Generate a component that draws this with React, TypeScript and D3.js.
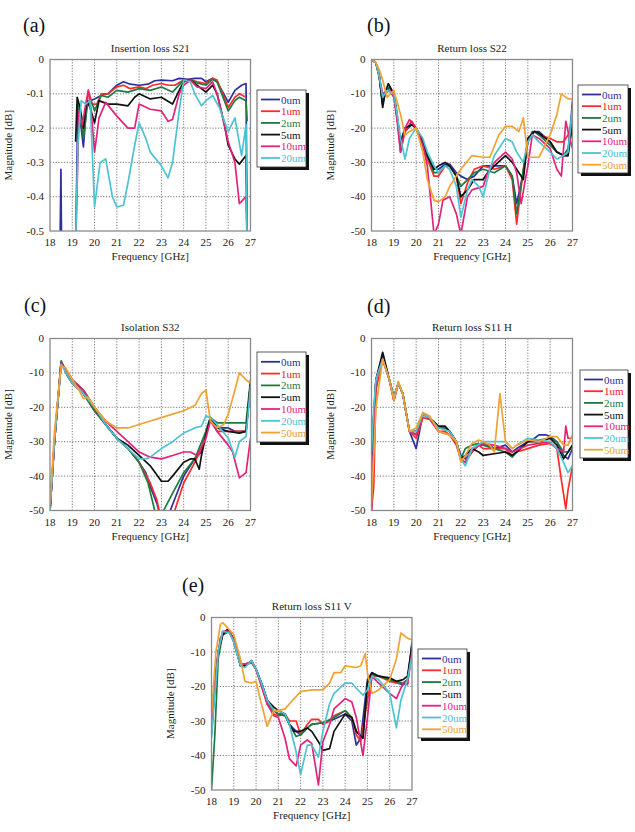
import React from 'react';
import * as d3 from 'd3';

type Pt = [number, number];

const FREQ_TICKS = [18, 19, 20, 21, 22, 23, 24, 25, 26, 27];
const DB_TICKS = [0, -10, -20, -30, -40, -50];
const IL_TICKS = [0, -0.1, -0.2, -0.3, -0.4, -0.5];
const NAMES = ['0um', '1um', '2um', '5um', '10um', '20um', '50um'];
const LINE_COLORS = ['#2e2e9c', '#ff2b2b', '#1f7a40', '#111111', '#e2237c', '#4cc3d3', '#f0a232'];
const TEXT_COLORS = ['#2e2e9c', '#ee2020', '#1f7a40', '#111111', '#e2237c', '#45bfd0', '#eaa030'];

// (a) Insertion loss S21
const a0: Pt[] = [[18.45,-0.55],[18.49,-0.32],[18.52,-0.55],[19.15,-0.55],[19.25,-0.13],[19.4,-0.2],[19.5,-0.255],[19.65,-0.13],[19.8,-0.12],[20,-0.115],[20.3,-0.105],[20.6,-0.1],[21,-0.075],[21.3,-0.065],[21.6,-0.072],[22,-0.075],[22.4,-0.072],[22.7,-0.062],[23,-0.06],[23.5,-0.062],[23.8,-0.055],[24.2,-0.058],[24.5,-0.055],[24.8,-0.055],[25,-0.065],[25.3,-0.055],[25.5,-0.065],[25.8,-0.1],[26,-0.125],[26.3,-0.09],[26.6,-0.075],[26.8,-0.07],[26.85,-0.55]];
const a1: Pt[] = [[19.25,-0.12],[19.5,-0.22],[19.72,-0.09],[19.9,-0.13],[20.1,-0.13],[20.3,-0.1],[20.6,-0.1],[21,-0.08],[21.3,-0.075],[21.6,-0.085],[22,-0.08],[22.3,-0.085],[22.6,-0.075],[23,-0.07],[23.3,-0.075],[23.6,-0.075],[24,-0.06],[24.3,-0.058],[24.6,-0.065],[25,-0.07],[25.3,-0.055],[25.5,-0.06],[26,-0.14],[26.3,-0.11],[26.5,-0.1],[26.8,-0.11]];
const a2: Pt[] = [[19.25,-0.12],[19.5,-0.23],[19.7,-0.12],[19.9,-0.13],[20,-0.15],[20.3,-0.105],[20.6,-0.11],[21,-0.09],[21.5,-0.095],[22,-0.085],[22.5,-0.09],[23,-0.08],[23.5,-0.095],[24,-0.06],[24.3,-0.06],[24.6,-0.068],[25,-0.075],[25.3,-0.058],[25.5,-0.065],[26,-0.15],[26.3,-0.12],[26.5,-0.11],[26.8,-0.12],[26.85,-0.18]];
const a5: Pt[] = [[19.15,-0.24],[19.22,-0.11],[19.35,-0.14],[19.5,-0.2],[19.65,-0.12],[19.8,-0.14],[20,-0.185],[20.2,-0.12],[20.4,-0.125],[20.6,-0.13],[21,-0.13],[21.5,-0.135],[21.8,-0.11],[22,-0.1],[22.5,-0.115],[23,-0.11],[23.5,-0.13],[23.8,-0.09],[24,-0.065],[24.3,-0.06],[24.6,-0.075],[25,-0.095],[25.3,-0.075],[25.5,-0.1],[25.8,-0.18],[26,-0.25],[26.3,-0.29],[26.5,-0.305],[26.8,-0.28],[26.85,-0.55]];
const a10: Pt[] = [[19.15,-0.55],[19.3,-0.15],[19.45,-0.19],[19.55,-0.15],[19.72,-0.09],[19.85,-0.15],[20,-0.27],[20.2,-0.17],[20.5,-0.125],[21,-0.165],[21.5,-0.2],[21.8,-0.2],[22,-0.13],[22.5,-0.145],[23,-0.15],[23.3,-0.18],[23.5,-0.175],[23.8,-0.1],[24,-0.075],[24.3,-0.06],[24.6,-0.08],[25,-0.085],[25.3,-0.065],[25.5,-0.1],[26,-0.24],[26.3,-0.3],[26.5,-0.42],[26.8,-0.4],[26.85,-0.55]];
const a20: Pt[] = [[19.15,-0.55],[19.25,-0.25],[19.4,-0.12],[19.6,-0.13],[19.8,-0.12],[20,-0.43],[20.25,-0.3],[20.5,-0.29],[20.8,-0.4],[21,-0.43],[21.3,-0.425],[21.5,-0.36],[21.8,-0.25],[22,-0.185],[22.3,-0.23],[22.5,-0.27],[23,-0.31],[23.3,-0.345],[23.5,-0.3],[23.8,-0.15],[24,-0.06],[24.3,-0.065],[24.5,-0.1],[24.8,-0.135],[25,-0.12],[25.3,-0.105],[25.6,-0.14],[26,-0.21],[26.3,-0.17],[26.6,-0.28],[26.8,-0.19],[26.85,-0.55]];

// (b) Return loss S22
const b0: Pt[] = [[18,0],[18.2,-1],[18.35,-5],[18.5,-13],[18.6,-10],[18.8,-8],[19,-10],[19.15,-16],[19.3,-25],[19.5,-21],[19.8,-19],[20,-20],[20.3,-24],[20.5,-28],[20.8,-32],[21,-32],[21.3,-30.5],[21.5,-30.5],[21.8,-33],[22,-34],[22.3,-35],[22.6,-34],[23,-31],[23.5,-31],[24,-31],[24.3,-34],[24.5,-42],[24.8,-33],[25,-24],[25.2,-21],[25.5,-21],[26,-24],[26.3,-27],[26.6,-28],[26.8,-28],[27,-12]];
const b1: Pt[] = [[18,0],[18.2,-1],[18.35,-5],[18.5,-12],[18.6,-10],[18.8,-9],[19,-10],[19.15,-17],[19.3,-27],[19.5,-21],[19.8,-18],[20,-20],[20.3,-25],[20.5,-29],[20.8,-34],[21,-34],[21.3,-31],[21.5,-31],[21.8,-34],[22,-42],[22.3,-36],[22.6,-32],[23,-31],[23.5,-32],[24,-31],[24.3,-35],[24.5,-48],[24.8,-32],[25,-23],[25.3,-21],[25.5,-22],[26,-23],[26.3,-24],[26.6,-24],[26.8,-22],[27,-18]];
const b2: Pt[] = [[18,0],[18.2,-1],[18.35,-5],[18.5,-13],[18.6,-10],[18.8,-8],[19,-10],[19.15,-17],[19.3,-25],[19.5,-20],[19.8,-19],[20,-20],[20.3,-24],[20.5,-28],[20.8,-33],[21,-33],[21.3,-31],[21.5,-31],[21.8,-34],[22,-37],[22.3,-35],[22.6,-33],[23,-32],[23.5,-33],[24,-31],[24.3,-34],[24.5,-45],[24.8,-32],[25,-24],[25.3,-21],[25.5,-22],[26,-25],[26.3,-27],[26.6,-28],[26.8,-26],[27,-15]];
const b5: Pt[] = [[18,0],[18.2,-1],[18.35,-5],[18.5,-14],[18.6,-10],[18.75,-7],[19,-10],[19.15,-17],[19.3,-24],[19.5,-20],[19.8,-19],[20,-20],[20.3,-24],[20.5,-28],[20.8,-32],[21,-31],[21.3,-30],[21.5,-31],[21.8,-34],[22,-40],[22.3,-38],[22.6,-35],[23,-35],[23.2,-33],[23.5,-31],[24,-28],[24.3,-30],[24.5,-32],[24.8,-35],[25,-23],[25.3,-21],[25.5,-21.5],[26,-24],[26.3,-27],[26.6,-28],[26.8,-28],[27,-19]];
const b10: Pt[] = [[18,0],[18.2,-1],[18.35,-5],[18.5,-10],[18.6,-9.5],[18.8,-9],[19,-11],[19.15,-18],[19.3,-27],[19.5,-20],[19.7,-17.5],[20,-20],[20.3,-25],[20.5,-31],[20.8,-51],[21,-48],[21.2,-41],[21.5,-40],[21.8,-45],[22,-51],[22.3,-40],[22.5,-38],[23,-37],[23.2,-33],[23.5,-30],[24,-27],[24.3,-29],[24.5,-33],[24.7,-42],[25,-31],[25.2,-22],[25.5,-23],[26,-26],[26.3,-32],[26.5,-34],[26.7,-18],[26.8,-21],[27,-26]];
const b20: Pt[] = [[18,0],[18.2,-1],[18.35,-5],[18.5,-11],[18.7,-9],[19,-10],[19.15,-16],[19.3,-23],[19.5,-29],[19.7,-23],[20,-20],[20.3,-23],[20.5,-27],[20.8,-31],[21,-33],[21.3,-31],[21.5,-32],[21.8,-37],[22,-46],[22.3,-38],[22.5,-35],[22.8,-37],[23,-40],[23.3,-32],[23.5,-28],[24,-23],[24.3,-24],[24.5,-27],[24.8,-30],[25,-24],[25.2,-22],[25.5,-24],[26,-27],[26.3,-29],[26.6,-28],[26.8,-27],[27,-14]];
const b50: Pt[] = [[18,0],[18.2,-1],[18.35,-3],[18.5,-6],[18.7,-11],[19,-9],[19.3,-16],[19.5,-22],[19.7,-21],[20,-20],[20.3,-27],[20.5,-35],[20.8,-41],[21,-41.5],[21.3,-40],[21.5,-37],[22,-32],[22.5,-28],[23,-28.5],[23.3,-28.5],[23.7,-22],[24,-19.5],[24.3,-19.5],[24.6,-21],[24.8,-17],[25,-28.5],[25.3,-28.5],[25.5,-28.5],[26,-22],[26.3,-16],[26.5,-10],[26.8,-11.5],[27,-11.5]];

// (c) Isolation S32
const c0: Pt[] = [[18,-50],[18.2,-30],[18.5,-7],[18.8,-11],[19,-13],[19.5,-16],[20,-21],[20.5,-25],[21,-29],[21.5,-32],[22,-36],[22.3,-39],[22.5,-43],[22.8,-48],[23,-53],[23.3,-53],[23.4,-50],[23.7,-45],[24,-40],[24.5,-35],[24.8,-33],[25,-28],[25.2,-23],[25.5,-26],[26,-26],[26.3,-27],[26.6,-27],[26.8,-27],[27,-13]];
const c1: Pt[] = [[18,-50],[18.2,-30],[18.5,-7],[18.8,-11],[19,-13],[19.5,-16],[20,-21],[20.5,-25],[21,-29],[21.5,-32],[22,-36],[22.5,-42],[22.8,-47],[23,-53],[23.5,-53],[23.6,-50],[24,-42],[24.5,-36],[24.8,-32],[25,-27],[25.2,-23],[25.5,-27],[26,-27],[26.5,-27],[26.8,-27],[27,-13]];
const c2: Pt[] = [[18,-50],[18.2,-30],[18.5,-6.5],[18.8,-11],[19,-13],[19.5,-16],[20,-21],[20.5,-25],[21,-29],[21.5,-32],[22,-36],[22.4,-42],[22.7,-50],[22.9,-55],[23.1,-50],[23.5,-45],[24,-39],[24.5,-35],[25,-27],[25.2,-23],[25.5,-24.5],[26,-24.5],[26.5,-24.5],[26.8,-24.5],[27,-12]];
const c5: Pt[] = [[18,-50],[18.2,-30],[18.5,-7],[19,-12],[19.5,-15],[20,-20],[20.5,-25],[21,-29],[21.5,-31],[22,-34],[22.5,-37],[23,-41.5],[23.3,-41.5],[23.5,-40],[24,-36],[24.3,-35],[24.5,-35],[24.7,-38],[24.8,-34],[25,-28],[25.2,-23],[25.5,-26],[26,-27],[26.5,-27.5],[26.8,-27],[27,-13]];
const c10: Pt[] = [[18,-50],[18.2,-30],[18.5,-7],[19,-12],[19.5,-15],[20,-20],[20.5,-24],[21,-27],[21.5,-30],[22,-33],[22.5,-34.5],[23,-35],[23.5,-34],[24,-33],[24.3,-33],[24.6,-34],[25,-29],[25.2,-24],[25.5,-27],[26,-31],[26.2,-33],[26.5,-40.5],[26.8,-39],[27,-29]];
const c20: Pt[] = [[18,-50],[18.2,-30],[18.5,-7.5],[19,-13],[19.5,-16],[20,-20],[20.5,-25],[21,-29],[21.5,-32],[22,-35],[22.3,-35],[22.5,-34.5],[23,-32],[23.5,-30],[24,-27.5],[24.5,-26],[24.8,-25.5],[25,-22.5],[25.2,-23],[25.5,-25],[26,-29],[26.3,-34.5],[26.5,-30],[26.8,-28.5],[27,-14]];
const c50: Pt[] = [[18,-48],[18.2,-27],[18.5,-8],[18.7,-8.5],[19,-12],[19.3,-15],[19.5,-17.5],[19.7,-17],[20,-20],[20.5,-24],[21,-26],[21.5,-26],[22,-25],[22.5,-24],[23,-23],[23.5,-22],[24,-21],[24.5,-19.5],[24.8,-16],[25,-15],[25.2,-24],[25.5,-26],[25.8,-25],[26,-22],[26.3,-15],[26.5,-10],[26.8,-12],[27,-13]];

// (d) Return loss S11 H
const d0: Pt[] = [[18,-37],[18.2,-12],[18.5,-5],[18.8,-12],[19,-17],[19.2,-13],[19.4,-16],[19.7,-27],[20,-32],[20.3,-22],[20.6,-23],[21,-26],[21.3,-26],[21.5,-27],[21.8,-30],[22,-34],[22.2,-35],[22.5,-33],[22.8,-31],[23,-31],[23.3,-31],[23.5,-32],[24,-31],[24.3,-33],[24.5,-32],[25,-30],[25.3,-29],[25.5,-28],[25.8,-28],[26,-28.5],[26.3,-30],[26.6,-34],[26.8,-35],[27,-32]];
const d1: Pt[] = [[18,-50],[18.1,-43],[18.2,-15],[18.5,-6],[18.8,-12],[19,-18],[19.2,-13],[19.4,-16],[19.7,-27],[20,-29],[20.3,-23],[20.6,-23.5],[21,-27],[21.3,-27],[21.5,-28],[21.8,-31],[22,-35],[22.2,-36],[22.5,-33],[22.8,-31],[23,-32],[23.5,-32],[24,-32],[24.3,-34],[24.5,-33],[25,-32],[25.5,-31],[26,-30.5],[26.3,-32],[26.5,-41],[26.7,-49.5],[26.8,-44],[27,-37]];
const d2: Pt[] = [[18,-33],[18.2,-12],[18.5,-6],[18.8,-12],[19,-18],[19.2,-13],[19.4,-16],[19.7,-27],[20,-28],[20.3,-22],[20.6,-23],[21,-26],[21.3,-26],[21.5,-27],[21.8,-30],[22,-35],[22.2,-32],[22.5,-31],[22.8,-30.5],[23,-31],[23.5,-32],[24,-33],[24.3,-34.5],[24.5,-33],[25,-30],[25.5,-29.5],[26,-29],[26.3,-30],[26.6,-33],[26.8,-33],[27,-31]];
const d5: Pt[] = [[18,-33],[18.2,-12],[18.5,-4],[18.8,-12],[19,-17],[19.2,-13],[19.4,-16],[19.7,-27],[20,-27],[20.3,-22],[20.6,-23],[21,-25.5],[21.3,-25.5],[21.5,-27],[21.8,-30],[22,-35],[22.2,-34],[22.5,-32],[22.8,-33],[23,-34],[23.5,-33.5],[24,-33],[24.3,-34],[24.5,-33],[25,-30],[25.5,-30],[26,-29],[26.3,-31],[26.6,-35],[26.8,-33],[27,-31]];
const d10: Pt[] = [[18,-50],[18.2,-12],[18.5,-6],[18.8,-12],[19,-18],[19.2,-13],[19.4,-16],[19.7,-27],[20,-28],[20.3,-22],[20.6,-23],[21,-27],[21.5,-28],[21.8,-30.5],[22,-35],[22.2,-36],[22.5,-32],[23,-30.5],[23.5,-31],[24,-32],[24.3,-33],[24.5,-32.5],[25,-31],[25.5,-30.5],[26,-30],[26.3,-32],[26.6,-33],[26.7,-25.5],[26.8,-29],[27,-29]];
const d20: Pt[] = [[18,-33],[18.1,-20],[18.2,-12],[18.5,-6],[18.8,-12],[19,-17],[19.2,-13],[19.4,-16],[19.7,-27],[20,-27],[20.3,-22],[20.6,-23],[21,-26],[21.5,-27],[21.8,-30],[22,-35],[22.2,-37],[22.5,-32],[23,-30],[23.5,-30],[24,-30],[24.3,-32],[24.5,-31],[25,-29],[25.5,-29.5],[26,-30],[26.3,-32],[26.6,-36],[26.8,-39],[27,-37]];
const d50: Pt[] = [[18,-48],[18.2,-20],[18.5,-6],[18.8,-12],[19,-18],[19.2,-12.5],[19.4,-16],[19.7,-27],[20,-26],[20.3,-21.5],[20.6,-22.5],[21,-27],[21.5,-28],[21.8,-30],[22,-36],[22.2,-34],[22.5,-30.5],[22.8,-29.5],[23,-30],[23.3,-31],[23.5,-33],[23.75,-16],[24,-30],[24.3,-32],[24.5,-31],[25,-29.5],[25.5,-30],[26,-28.5],[26.3,-28.5],[26.6,-31],[26.8,-31],[27,-28]];

// (e) Return loss S11 V
const e0: Pt[] = [[18,-34],[18.2,-15],[18.4,-6],[18.6,-4],[18.8,-4],[19,-7],[19.3,-14],[19.5,-14],[19.8,-13],[20,-15],[20.3,-20],[20.5,-24],[20.8,-27],[21,-28],[21.3,-28],[21.5,-31],[21.8,-33],[22,-34],[22.3,-32],[22.5,-31],[23,-30.5],[23.3,-30],[23.5,-29.5],[24,-28],[24.3,-30],[24.5,-37],[24.7,-35],[25,-18],[25.2,-16],[25.5,-17],[26,-18],[26.3,-19],[26.6,-19.5],[26.8,-19],[27,-7]];
const e1: Pt[] = [[18,-30],[18.3,-10],[18.5,-5],[18.8,-4],[19,-7],[19.3,-13.5],[19.5,-13.5],[19.8,-13],[20,-15],[20.3,-21],[20.5,-25],[20.8,-28],[21,-28.5],[21.3,-28],[21.5,-30],[21.8,-30],[22,-34],[22.3,-31],[22.5,-29.5],[22.8,-29.5],[23,-31],[23.3,-30],[23.5,-28.5],[24,-27],[24.3,-29],[24.5,-34],[24.7,-36],[25,-24],[25.2,-17],[25.5,-17],[26,-18.5],[26.3,-19],[26.6,-19],[26.8,-18],[27,-9]];
const e2: Pt[] = [[18,-50],[18.15,-34],[18.3,-12],[18.5,-5],[18.8,-4],[19,-7],[19.3,-14],[19.5,-13.5],[19.8,-13],[20,-15],[20.3,-20],[20.5,-25],[20.8,-27],[21,-28],[21.3,-28.5],[21.5,-31],[21.8,-34.5],[22,-34],[22.3,-32],[22.5,-31],[23,-30.5],[23.5,-29],[24,-27],[24.3,-29],[24.5,-33],[24.8,-35],[25,-19],[25.2,-16.5],[25.5,-17],[26,-18],[26.3,-18.5],[26.6,-19],[26.8,-18],[27,-8]];
const e5: Pt[] = [[18,-32],[18.3,-10],[18.5,-5],[18.7,-3.5],[19,-6],[19.3,-14],[19.5,-14],[19.8,-12.5],[20,-15],[20.3,-20],[20.5,-24],[20.8,-26],[21,-27],[21.3,-28],[21.5,-31],[21.7,-33],[22,-33],[22.3,-32],[22.5,-33],[22.8,-36],[23,-38.5],[23.3,-38],[23.5,-33],[24,-28],[24.3,-29],[24.5,-33],[24.8,-35],[25,-19],[25.2,-16],[25.5,-17],[26,-17.5],[26.3,-18.5],[26.6,-18],[26.8,-17],[27,-8]];
const e10: Pt[] = [[18,-30],[18.3,-10],[18.5,-4],[18.8,-4],[19,-6.5],[19.3,-13.5],[19.5,-13.5],[19.8,-13],[20,-15],[20.3,-21],[20.5,-25],[20.8,-28.5],[21,-29],[21.3,-35],[21.5,-41],[21.8,-43],[22,-37],[22.3,-35.5],[22.5,-36.5],[22.8,-48.5],[23,-36],[23.3,-31],[23.5,-26.5],[24,-23.5],[24.3,-24.5],[24.5,-29],[24.8,-40],[25,-29],[25.2,-17],[25.5,-19],[26,-22],[26.3,-23.5],[26.6,-19],[26.8,-19.5],[27,-10]];
const e20: Pt[] = [[18,-35],[18.3,-10],[18.5,-4],[18.8,-4.5],[19,-7],[19.3,-14],[19.5,-14.5],[19.8,-12.5],[20,-15],[20.3,-20],[20.5,-24],[20.8,-27],[21,-27],[21.3,-28],[21.5,-31],[21.8,-39],[22,-45.5],[22.3,-37],[22.5,-37],[22.8,-40.5],[23,-33],[23.3,-25],[23.5,-22],[24,-19],[24.3,-19],[24.5,-20.5],[24.8,-22.5],[25,-21],[25.2,-17],[25.5,-18],[26,-22],[26.3,-32],[26.5,-24],[26.8,-18],[27,-11]];
const e50: Pt[] = [[18,-28],[18.2,-10],[18.4,-2],[18.5,-1.5],[18.8,-3.5],[19,-5],[19.3,-12],[19.5,-18.5],[19.8,-19],[20,-18.5],[20.2,-24],[20.5,-31.5],[20.8,-27],[21,-27],[21.3,-26.5],[21.5,-25],[22,-21.5],[22.5,-21],[23,-21],[23.3,-19],[23.5,-16],[23.8,-16],[24,-14],[24.5,-14.5],[24.7,-14],[24.9,-10.5],[25,-16],[25.2,-22],[25.5,-21],[26,-18],[26.3,-12],[26.5,-4.5],[26.8,-6],[27,-6.5]];

interface PanelCfg {
  id: string;
  left: number; top: number; w: number; h: number;
  yMin: number; yTicks: number[]; fmt: (v: number) => string;
  title: string; label: string; labelX: number; labelY: number;
  legX: number; legY: number; legW: number; legH: number; rowY0: number; rowDy: number;
  series: Pt[][];
}

const SERIF = '"Liberation Serif", "Times New Roman", Times, serif';

const panels: PanelCfg[] = [
  { id: 'a', left: 50, top: 59.5, w: 200.5, h: 171.5, yMin: -0.5, yTicks: IL_TICKS, fmt: (v) => (v === 0 ? '0' : d3.format('.1f')(v).replace('−', '-')),
    title: 'Insertion loss S21', label: '(a)', labelX: 23, labelY: 32, legX: 257, legY: 90, legW: 49, legH: 77, rowY0: 99.5, rowDy: 11.7,
    series: [a0, a1, a2, a5, a10, a20] },
  { id: 'b', left: 371.5, top: 59.5, w: 201, h: 171.5, yMin: -50, yTicks: DB_TICKS, fmt: (v) => String(v),
    title: 'Return loss S22', label: '(b)', labelX: 367, labelY: 32, legX: 578, legY: 85, legW: 50, legH: 88, rowY0: 94.5, rowDy: 11.7,
    series: [b0, b1, b2, b5, b10, b20, b50] },
  { id: 'c', left: 50, top: 338.5, w: 200.5, h: 172, yMin: -50, yTicks: DB_TICKS, fmt: (v) => String(v),
    title: 'Isolation S32', label: '(c)', labelX: 24, labelY: 312, legX: 257, legY: 352, legW: 49, legH: 90, rowY0: 361.8, rowDy: 11.8,
    series: [c0, c1, c2, c5, c10, c20, c50] },
  { id: 'd', left: 371.5, top: 338.5, w: 201, h: 172, yMin: -50, yTicks: DB_TICKS, fmt: (v) => String(v),
    title: 'Return loss S11 H', label: '(d)', labelX: 367, labelY: 313, legX: 580, legY: 370, legW: 48, legH: 88, rowY0: 379.5, rowDy: 11.7,
    series: [d0, d1, d2, d5, d10, d20, d50] },
  { id: 'e', left: 211.5, top: 617.5, w: 200.5, h: 172.5, yMin: -50, yTicks: DB_TICKS, fmt: (v) => String(v),
    title: 'Return loss S11 V', label: '(e)', labelX: 182, labelY: 592, legX: 418, legY: 649, legW: 49, legH: 89, rowY0: 658.5, rowDy: 11.8,
    series: [e0, e1, e2, e5, e10, e20, e50] },
];

function Panel({ p }: { p: PanelCfg }) {
  const x = d3.scaleLinear().domain([18, 27]).range([p.left, p.left + p.w]);
  const y = d3.scaleLinear().domain([0, p.yMin]).range([p.top, p.top + p.h]);
  const line = d3.line<Pt>().x((d) => x(d[0])).y((d) => y(d[1]));
  const bottom = p.top + p.h;
  const cx = p.left + p.w / 2;
  return (
    <g>
      <defs>
        <clipPath id={`clip-${p.id}`}>
          <rect x={p.left} y={p.top} width={p.w} height={p.h} />
        </clipPath>
      </defs>
      <text x={p.labelX} y={p.labelY} fontFamily={SERIF} fontSize={20} fill="#111">{p.label}</text>
      <text x={cx} y={p.top - 8} fontFamily={SERIF} fontSize={11} textAnchor="middle" fill="#222">{p.title}</text>
      <rect x={p.left} y={p.top} width={p.w} height={p.h} fill="#fff" />
      {FREQ_TICKS.slice(1, -1).map((t) => (
        <line key={`gx${t}`} x1={x(t)} x2={x(t)} y1={p.top} y2={bottom} stroke="#555" strokeWidth={0.8} strokeDasharray="1.2,1.6" />
      ))}
      {p.yTicks.slice(1, -1).map((t) => (
        <line key={`gy${t}`} x1={p.left} x2={p.left + p.w} y1={y(t)} y2={y(t)} stroke="#555" strokeWidth={0.8} strokeDasharray="1.2,1.6" />
      ))}
      <g clipPath={`url(#clip-${p.id})`}>
        {p.series.map((s, i) => (
          <path key={i} d={line(s) || ''} fill="none" stroke={LINE_COLORS[i]} strokeWidth={1.7} strokeLinejoin="round" />
        ))}
      </g>
      <rect x={p.left} y={p.top} width={p.w} height={p.h} fill="none" stroke="#8a8a8a" strokeWidth={1.3} />
      {p.yTicks.map((t) => (
        <text key={`ty${t}`} x={p.left - 6} y={y(t) + 3.5} fontFamily={SERIF} fontSize={11} textAnchor="end" fill="#222">{p.fmt(t)}</text>
      ))}
      {FREQ_TICKS.map((t) => (
        <text key={`tx${t}`} x={x(t)} y={bottom + 15} fontFamily={SERIF} fontSize={11} textAnchor="middle" fill="#222">{t}</text>
      ))}
      <text x={cx} y={bottom + 29} fontFamily={SERIF} fontSize={11} textAnchor="middle" fill="#222">Frequency [GHz]</text>
      <text transform={`translate(${p.left - 38},${p.top + p.h / 2}) rotate(-90)`} fontFamily={SERIF} fontSize={11} textAnchor="middle" fill="#222">Magnitude [dB]</text>
      <rect x={p.legX + 3} y={p.legY + 3} width={p.legW} height={p.legH} fill="#111" />
      <rect x={p.legX} y={p.legY} width={p.legW} height={p.legH} fill="#fff" stroke="#333" strokeWidth={0.8} />
      {p.series.map((_, i) => {
        const ry = p.rowY0 + i * p.rowDy;
        return (
          <g key={`lg${i}`}>
            <line x1={p.legX + 4} x2={p.legX + 23} y1={ry} y2={ry} stroke={LINE_COLORS[i]} strokeWidth={1.8} />
            <text x={p.legX + 24} y={ry + 4} fontFamily={SERIF} fontSize={11} fill={TEXT_COLORS[i]}>{NAMES[i]}</text>
          </g>
        );
      })}
    </g>
  );
}

export default function App() {
  return (
    <svg width={635} height={832} style={{ position: 'absolute', left: 0, top: 0, background: '#fff' }}>
      <rect x={0} y={0} width={635} height={832} fill="#fff" />
      {panels.map((p) => <Panel key={p.id} p={p} />)}
    </svg>
  );
}
